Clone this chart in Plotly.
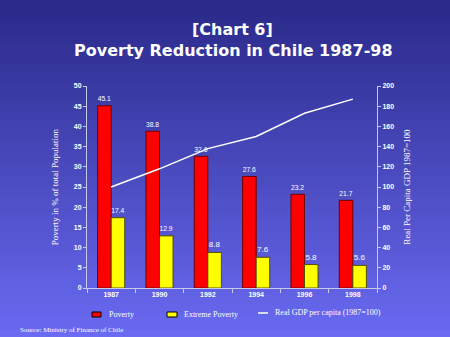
import plotly.graph_objects as go

years = ["1987", "1990", "1992", "1994", "1996", "1998"]
poverty = [45.1, 38.8, 32.6, 27.6, 23.2, 21.7]
extreme = [17.4, 12.9, 8.8, 7.6, 5.8, 5.6]
gdp = [100, 118, 138, 150, 173, 187]
legend_names = ["Poverty", "Extreme Poverty", "Real GDP per capita (1987=100)"]

W, H = 450, 337
L, R, T, B = 87, 73, 86, 49
ph = H - T - B
pw = W - L - R

def py2paper(py):
    return (H - B - py) / ph

def px2paper(px):
    return (px - L) / pw

fig = go.Figure()
fig.add_trace(go.Bar(x=years, y=poverty, name=legend_names[0], marker=dict(color="#ff0000", line=dict(color="#700000", width=1)),
                     text=[f"{v:.1f}" for v in poverty], textposition="outside", textfont=dict(color="white", size=8, family="Liberation Sans"),
                     cliponaxis=False))
fig.add_trace(go.Bar(x=years, y=extreme, name=legend_names[1], marker=dict(color="#ffff00", line=dict(color="#505000", width=1)),
                     text=[f"{v:.1f}" for v in extreme], textposition="outside", textfont=dict(color="white", size=8, family="Liberation Sans"),
                     cliponaxis=False))
fig.add_trace(go.Scatter(x=years, y=gdp, name=legend_names[2], yaxis="y2", mode="lines",
                         line=dict(color="white", width=1.5)))

# gradient background
shapes = []
n = 48
c0 = (0x2a, 0x2a, 0x8a)
c1 = (0x6a, 0x6a, 0xf2)
for i in range(n):
    t = i / (n - 1)
    c = tuple(int(c0[k] + (c1[k] - c0[k]) * t) for k in range(3))
    y0 = H * i / n
    y1 = H * (i + 1) / n + 1
    shapes.append(dict(type="rect", xref="paper", yref="paper", x0=px2paper(0), x1=px2paper(W),
                       y0=py2paper(y1), y1=py2paper(y0), fillcolor="rgb(%d,%d,%d)" % c, line=dict(width=0), layer="below"))

# custom legend
ly = 314
shapes.append(dict(type="rect", xref="paper", yref="paper", x0=px2paper(92), x1=px2paper(101), y0=py2paper(ly + 3), y1=py2paper(ly - 2),
                   fillcolor="#ff0000", line=dict(color="#000000", width=1)))
shapes.append(dict(type="rect", xref="paper", yref="paper", x0=px2paper(167), x1=px2paper(177), y0=py2paper(ly + 3), y1=py2paper(ly - 2),
                   fillcolor="#ffff00", line=dict(color="#000000", width=1)))
shapes.append(dict(type="line", xref="paper", yref="paper", x0=px2paper(258), x1=px2paper(268), y0=py2paper(ly - 1), y1=py2paper(ly - 1),
                   line=dict(color="white", width=1.5)))

legfont = dict(color="white", size=8, family="Liberation Serif")
annotations = [
    dict(text="[Chart 6]", x=px2paper(232), y=py2paper(30), xref="paper", yref="paper", showarrow=False,
         xanchor="center", yanchor="middle", font=dict(color="white", size=16, family="DejaVu Sans", weight="bold")),
    dict(text="Poverty Reduction in Chile 1987-98", x=px2paper(233), y=py2paper(50), xref="paper", yref="paper", showarrow=False,
         xanchor="center", yanchor="middle", font=dict(color="white", size=16, family="DejaVu Sans", weight="bold")),
    dict(text="Source: Ministry of Finance of Chile", x=px2paper(18), y=py2paper(330), xref="paper", yref="paper",
         xanchor="left", yanchor="middle", showarrow=False, font=dict(color="white", size=7, family="Liberation Serif")),
    dict(text=legend_names[0], x=px2paper(107), y=py2paper(ly), xref="paper", yref="paper", xanchor="left", yanchor="middle",
         showarrow=False, font=legfont),
    dict(text=legend_names[1], x=px2paper(182), y=py2paper(ly), xref="paper", yref="paper", xanchor="left", yanchor="middle",
         showarrow=False, font=legfont),
    dict(text=legend_names[2], x=px2paper(273), y=py2paper(ly - 2), xref="paper", yref="paper", xanchor="left", yanchor="middle",
         showarrow=False, font=legfont),
]

axcol = "#c8c8e8"
tickfont = dict(color="white", size=7, family="Liberation Sans", weight="bold")
fig.update_layout(
    width=W, height=H, margin=dict(l=L, r=R, t=T, b=B),
    paper_bgcolor="#4a4ac0", plot_bgcolor="rgba(0,0,0,0)",
    shapes=shapes,
    barmode="group", bargap=0.44, bargroupgap=0,
    showlegend=False,
    xaxis=dict(showline=True, linecolor=axcol, linewidth=1, ticks="outside", tickson="boundaries", ticklen=4, tickcolor=axcol,
               tickfont=tickfont, showgrid=False),
    yaxis=dict(range=[0, 50], dtick=5, showline=True, linecolor=axcol, linewidth=1, ticks="outside", ticklen=3, tickcolor=axcol,
               tickfont=tickfont, showgrid=False, zeroline=False,
               title=dict(text="Poverty in % of total Population", font=dict(color="white", size=9, family="Liberation Serif"), standoff=13)),
    yaxis2=dict(range=[0, 200], dtick=20, overlaying="y", side="right", showline=True, linecolor=axcol, linewidth=1,
                ticks="outside", ticklen=3, tickcolor=axcol, tickfont=tickfont, showgrid=False, zeroline=False,
                title=dict(text="Real Per Capita GDP 1987=100", font=dict(color="white", size=9, family="Liberation Serif"), standoff=10)),
    annotations=annotations,
)
fig.write_html("out.html")
